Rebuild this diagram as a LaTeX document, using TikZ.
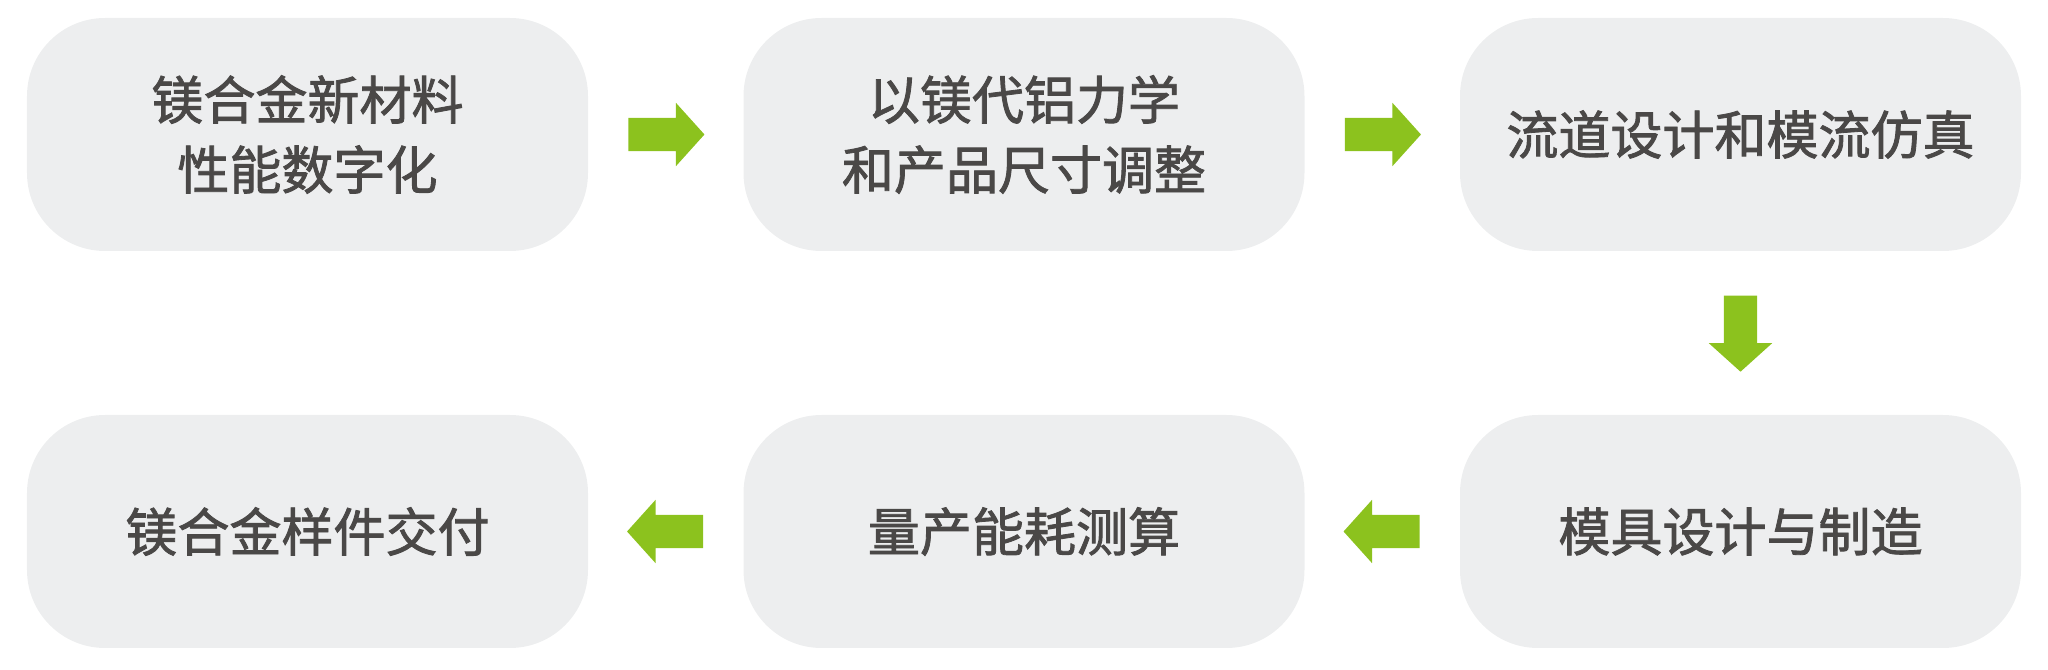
\documentclass[tikz,border=0pt]{standalone}
\usepackage{fontspec}
\newfontfamily\cjkfont[FakeBold=1.6]{Noto Sans CJK SC}
\usetikzlibrary{positioning, shapes.arrows, calc}
\definecolor{boxgray}{HTML}{EDEEEF}
\definecolor{textgray}{HTML}{4A4847}
\definecolor{arrowgreen}{HTML}{8CC21E}

\begin{document}
\begin{tikzpicture}
[node distance=3.97cm and 7.165cm,on grid,
                    stepbox/.style={rectangle, rounded corners=0.78cm, fill=boxgray,
                      minimum width=5.61cm, minimum height=2.33cm, align=center,
                      text=textgray, font=\cjkfont\fontsize{14.8pt}{19.9pt}\selectfont},
                    go/.style={single arrow, fill=arrowgreen, inner sep=0pt,
                      inner ysep=0.16cm, minimum height=0.76cm, anchor=tail,
                      single arrow head extend=0.15cm, single arrow tip angle=96,
                      single arrow head indent=0pt}]

\useasboundingbox (0,0) rectangle (20.48,-6.70);

\node[stepbox] (s1) at (3.075,-1.345) {镁合金新材料\\性能数字化};
\node[stepbox, right=of s1] (s2) {以镁代铝力学\\和产品尺寸调整};
\node[stepbox, right=of s2] (s3) {流道设计和模流仿真};
\node[stepbox, below=of s3] (s4) {模具设计与制造};
\node[stepbox, left=of s4] (s5) {量产能耗测算};
\node[stepbox, left=of s5] (s6) {镁合金样件交付};

% green arrows between the steps
\node[go] (a1) at ($(s1)!0.5!(s2)!0.38cm!(s1)$) {};
\node[go] (a2) at ($(s2)!0.5!(s3)!0.38cm!(s2)$) {};
\node[go, rotate=-90] (a3) at ($(s3)!0.5!(s4)!0.38cm!(s3)$) {};
\node[go, rotate=180] (a4) at ($(s4)!0.5!(s5)!0.38cm!(s4)$) {};
\node[go, rotate=180] (a5) at ($(s5)!0.5!(s6)!0.38cm!(s5)$) {};
\end{tikzpicture}
\end{document}
